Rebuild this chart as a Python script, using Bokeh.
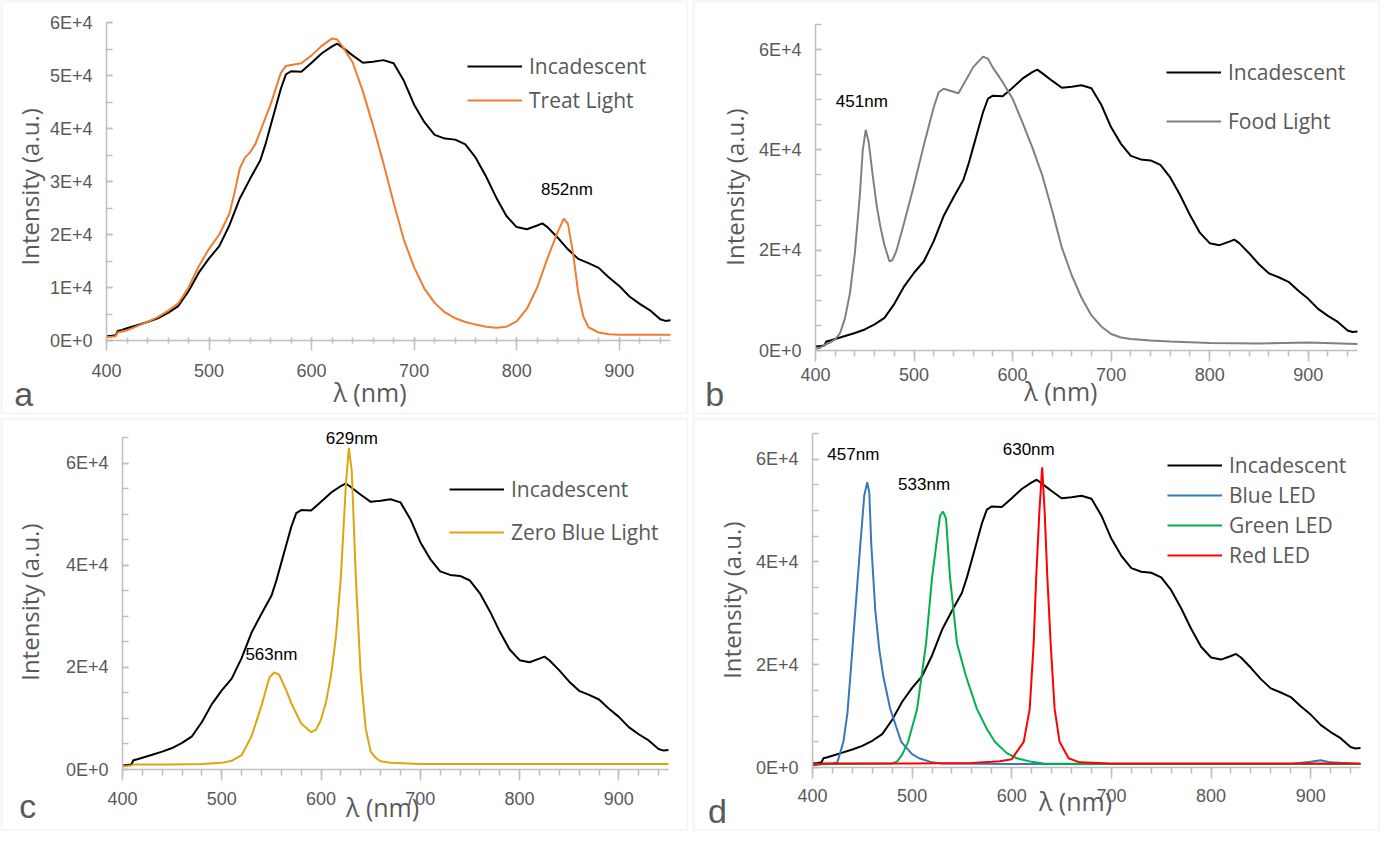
import math
from bokeh.plotting import figure
from bokeh.models import Range1d, FixedTicker, Legend, LegendItem, Label, BoxAnnotation
from bokeh.layouts import row, column
from bokeh.embed import file_html
from bokeh.resources import INLINE

# ---------------- data ----------------
INC_WL = [400, 405, 409, 411, 415, 420, 430, 440, 450, 460, 470, 480, 490, 500, 510, 520,
          530, 540, 550, 555, 560, 565, 570, 575, 580, 590, 600, 610, 620, 625, 630, 640,
          650, 660, 670, 680, 690, 700, 710, 720, 730, 740, 750, 760, 770, 780, 790, 800,
          810, 820, 825, 830, 840, 850, 860, 870, 880, 890, 900, 910, 920, 930, 940, 945, 950]
INC = [800, 900, 1000, 1800, 2000, 2300, 2900, 3500, 4200, 5200, 6500, 9300, 12800, 15500,
       17800, 21800, 26800, 30500, 34000, 37000, 40500, 44000, 47500, 50200, 50800, 50700,
       52400, 54200, 55500, 56000, 55300, 53800, 52400, 52600, 52900, 52300, 49000, 44500,
       41200, 38800, 38100, 37900, 37000, 34500, 31000, 27000, 23500, 21400, 21000, 21700,
       22100, 21400, 19400, 17200, 15400, 14600, 13700, 11900, 10300, 8300, 6900, 5700,
       4000, 3700, 3800]

TREAT_WL = [400, 405, 409, 411, 415, 420, 430, 440, 450, 460, 470, 480, 490, 500, 510, 520,
            525, 530, 535, 540, 545, 550, 560, 570, 575, 580, 590, 600, 610, 620, 625, 630,
            640, 650, 660, 670, 680, 690, 700, 710, 720, 730, 740, 750, 760, 770, 780, 790,
            800, 810, 820, 830, 840, 846, 850, 855, 860, 865, 870, 880, 890, 900, 950]
TREAT = [600, 700, 800, 1500, 1700, 1900, 2700, 3500, 4400, 5600, 7000, 10000, 14000, 17300,
         20000, 24000, 28000, 32500, 34500, 35500, 37000, 39500, 44500, 50500, 51800, 52000,
         52300, 53800, 55600, 57000, 56800, 55500, 52500, 47000, 40500, 33500, 26000, 19000,
         13800, 9800, 7100, 5300, 4200, 3500, 3000, 2600, 2400, 2600, 3600, 6000, 10000,
         15500, 20500, 23000, 22000, 16500, 9000, 4500, 2500, 1500, 1200, 1100, 1100]

FOOD_WL = [400, 405, 410, 415, 420, 425, 430, 435, 440, 445, 448, 451, 454, 458, 462, 466,
           470, 475, 478, 482, 490, 500, 510, 520, 525, 530, 540, 545, 550, 560, 570, 575,
           580, 590, 600, 610, 620, 630, 640, 650, 660, 670, 680, 690, 700, 710, 720, 740,
           760, 800, 850, 900, 950]
FOOD = [300, 600, 1200, 1600, 2200, 3500, 6500, 11500, 19500, 31000, 40000, 44000, 41500,
        35000, 29000, 24500, 21000, 17800, 18000, 19800, 25500, 33000, 41000, 48500, 51500,
        52200, 51600, 51300, 53000, 56500, 58600, 58200, 56400, 53500, 50200, 45500, 40500,
        35000, 28000, 20500, 15000, 10500, 7000, 4800, 3300, 2600, 2300, 2000, 1800, 1500,
        1400, 1600, 1300]

ZERO_WL = [400, 405, 409, 411, 420, 450, 480, 500, 510, 520, 530, 540, 548, 553, 558, 565,
           570, 580, 590, 595, 600, 605, 610, 615, 620, 625, 628, 631, 635, 640, 645, 650,
           655, 660, 670, 700, 800, 950]
ZERO = [600, 700, 800, 1000, 1000, 1000, 1100, 1300, 1700, 2800, 6500, 12500, 18000, 19000,
        18500, 15500, 13000, 9000, 7300, 7800, 9800, 13200, 18400, 26000, 37700, 55700,
        63000, 58300, 37700, 18400, 8000, 3500, 2300, 1600, 1300, 1100, 1100, 1100]

BLUE_WL = [400, 410, 420, 425, 431, 435, 438, 443, 448, 452, 455, 457, 459, 463, 467, 471,
           478, 489, 500, 507, 520, 530, 600, 880, 900, 910, 920, 950]
BLUE = [600, 700, 800, 1000, 5000, 10500, 17800, 30600, 43400, 53000, 55500, 53500, 43400,
        30600, 23000, 17800, 11400, 5000, 2600, 1800, 1000, 800, 700, 700, 1100, 1400, 1000, 700]

GREEN_WL = [400, 420, 480, 485, 490, 496, 505, 514, 520, 524, 528, 531, 534, 538, 545, 554,
            565, 575, 583, 595, 605, 620, 632, 700, 950]
GREEN = [600, 700, 800, 1200, 2500, 5000, 11400, 24200, 37000, 43000, 49000, 49800, 48500,
         37000, 24200, 17800, 11400, 7500, 5000, 2800, 1800, 1100, 800, 700, 700]

RED_WL = [400, 410, 500, 560, 580, 588, 600, 603, 612, 618, 622, 624.5, 627.7, 630.5, 633,
          635.7, 639, 643, 648, 657, 668, 700, 950]
RED = [500, 800, 800, 900, 1100, 1200, 1600, 2500, 5000, 11400, 24200, 37000, 49800, 58400,
       49800, 37000, 24200, 11400, 5000, 1800, 1000, 800, 800]

X_TICKS = [400, 500, 600, 700, 800, 900]
Y_TICKS_A = [0, 10000, 20000, 30000, 40000, 50000, 60000]
Y_TICKS_B = [0, 20000, 40000, 60000]

GREY_TXT = "#595959"
AXIS_COL = "#bfbfbf"
CW, CH = 688, 414          # size of each panel
XMIN, XMAX = 400, 950


def sci(v):
    if v == 0:
        return "0E+0"
    return "%dE+4" % (v // 10000)


def panel(ymax, yticks, left, fw, top, fh, xstand, xt_in, xt_out, xm_in, xm_out):
    # data ranges chosen so that the axes box sits at the wanted pixels
    kx = fw / (XMAX - XMIN)
    ky = fh / ymax
    x0 = XMIN - left / kx
    x1 = XMAX + (CW - left - fw) / kx
    y0 = -(CH - top - fh) / ky
    y1 = ymax + top / ky
    p = figure(width=CW, height=CH, min_border=0,
               x_range=Range1d(x0, x1), y_range=Range1d(y0, y1),
               output_backend="svg", toolbar_location=None)
    p.grid.visible = False
    p.outline_line_color = None
    p.background_fill_color = "white"
    p.border_fill_color = "white"
    # light grey panel border
    p.add_layout(BoxAnnotation(fill_alpha=0, line_color="#d9d9d9", line_width=4,
                               level="underlay"))

    xa = p.xaxis[0]
    xa.fixed_location = 0
    xa.bounds = (XMIN, XMAX)
    xa.ticker = FixedTicker(ticks=X_TICKS, minor_ticks=list(range(400, 951, 20)))
    xa.axis_line_color = AXIS_COL
    xa.axis_line_width = 1.5
    xa.major_tick_line_color = AXIS_COL
    xa.minor_tick_line_color = AXIS_COL
    xa.major_tick_line_width = 1.5
    xa.minor_tick_line_width = 1.5
    xa.major_tick_in = xt_in
    xa.major_tick_out = xt_out
    xa.minor_tick_in = xm_in
    xa.minor_tick_out = xm_out
    xa.major_label_text_font = "Liberation Sans"
    xa.major_label_text_font_size = "18px"
    xa.major_label_text_color = GREY_TXT
    xa.major_label_standoff = xstand

    ya = p.yaxis[0]
    ya.fixed_location = XMIN
    ya.bounds = (0, ymax)
    ya.ticker = FixedTicker(ticks=yticks, minor_ticks=list(range(0, ymax + 1, 5000)))
    ya.major_label_overrides = {t: sci(t) for t in yticks}
    ya.axis_line_color = AXIS_COL
    ya.axis_line_width = 1.5
    ya.major_tick_line_color = AXIS_COL
    ya.minor_tick_line_color = AXIS_COL
    ya.major_tick_line_width = 1.5
    ya.minor_tick_line_width = 1.5
    ya.major_tick_in = 6
    ya.major_tick_out = 0
    ya.minor_tick_in = 6
    ya.minor_tick_out = 0
    ya.major_label_text_font = "Liberation Sans"
    ya.major_label_text_font_size = "18px"
    ya.major_label_text_color = GREY_TXT
    ya.major_label_standoff = 14
    return p


def add_legend(p, items, loc, spacing):
    lg = Legend(items=[LegendItem(label=t, renderers=[r]) for t, r in items],
                location=loc, orientation="vertical", glyph_width=55, glyph_height=30,
                label_height=30, label_standoff=7, spacing=spacing, padding=0, margin=0,
                border_line_color=None, background_fill_alpha=0,
                label_text_font="Open Sans", label_text_font_size="21px",
                label_text_color=GREY_TXT)
    p.add_layout(lg)


def txt(p, x, y, s, size="17px", color="black", font="Liberation Sans", align="center",
        baseline="middle", angle=0.0):
    p.add_layout(Label(x=x, y=y, text=s, text_font=font, text_font_size=size,
                       text_color=color, text_align=align, text_baseline=baseline,
                       angle=angle))


def titles(p, xl, yl, xx, yx, xlet, ylet, letter):
    txt(p, xl, yl, "Intensity (a.u.)", size="24px", color=GREY_TXT, font="Open Sans",
        angle=math.pi / 2)
    txt(p, xx, yx, "λ (nm)", size="25px", color=GREY_TXT, font="Open Sans")
    txt(p, xlet, ylet, letter, size="34px", color=GREY_TXT, align="left",
        baseline="alphabetic")


# ---------------- panel a ----------------
pa = panel(60000, Y_TICKS_A, 106, 564, 22, 318, 13, 3, 10, 3, 3)
ra1 = pa.line(INC_WL, INC, color="black", line_width=2)
ra2 = pa.line(TREAT_WL, TREAT, color="#ed7d31", line_width=2)
add_legend(pa, [("Incadescent", ra1), ("Treat Light", ra2)], (467, 299), 4)
txt(pa, 849, 28400, "852nm")
titles(pa, 325, 29000, 657, -9700, 310, -10000, "a")

# ---------------- panel b ----------------
pb = panel(65000, Y_TICKS_B, 123, 542, 24, 326, 6, 0, 11, 0, 6)
rb1 = pb.line(INC_WL, INC, color="black", line_width=2)
rb2 = pb.line(FOOD_WL, FOOD, color="#808080", line_width=2)
add_legend(pb, [("Incadescent", rb1), ("Food Light", rb2)], (474, 278), 19)
txt(pb, 447, 49600, "451nm")
titles(pb, 318, 32600, 649, -8050, 288, -8575, "b")

# ---------------- panel c ----------------
pc = panel(65000, Y_TICKS_B, 122, 546, 20, 332, 11, 0, 11, 0, 6)
rc1 = pc.line(INC_WL, INC, color="black", line_width=2)
rc2 = pc.line(ZERO_WL, ZERO, color="#dca511", line_width=2)
add_legend(pc, [("Incadescent", rc1), ("Zero Blue Light", rc2)], (449, 284), 13)
txt(pc, 631, 64800, "629nm")
txt(pc, 550, 22500, "563nm")
titles(pc, 306, 32760, 662, -7340, 296, -7050, "c")

# ---------------- panel d ----------------
pd_ = panel(65000, Y_TICKS_B, 120, 548, 16, 334, 10, 0, 11, 0, 6)
rd1 = pd_.line(INC_WL, INC, color="black", line_width=2)
rd2 = pd_.line(BLUE_WL, BLUE, color="#3a76b8", line_width=2)
rd3 = pd_.line(GREEN_WL, GREEN, color="#00b050", line_width=2)
rd4 = pd_.line(RED_WL, RED, color="#ff0000", line_width=2)
add_legend(pd_, [("Incadescent", rd1), ("Blue LED", rd2), ("Green LED", rd3),
                 ("Red LED", rd4)], (475, 261), 0)
txt(pd_, 441, 61000, "457nm")
txt(pd_, 512, 55100, "533nm")
txt(pd_, 617, 61900, "630nm")
titles(pd_, 319, 32560, 664, -6540, 295, -8400, "d")

layout = column(row(pa, pb, spacing=4), row(pc, pd_, spacing=4), spacing=3)

open("out.html", "w").write(file_html(layout, INLINE))
